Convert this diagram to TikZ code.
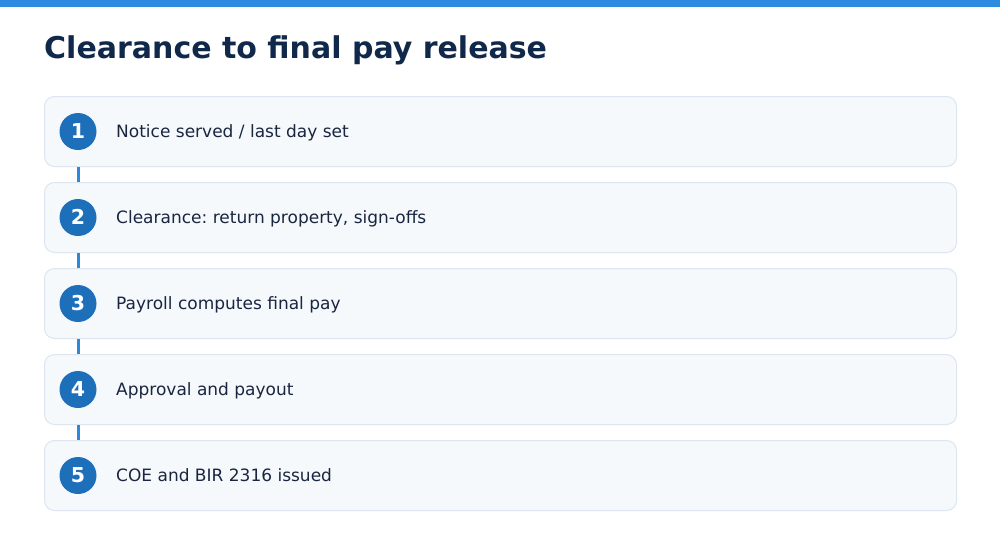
\documentclass[tikz,border=0pt]{standalone}
\usepackage{fontspec}
\setmainfont{DejaVu Sans}
\frenchspacing
\definecolor{topbar}{HTML}{2E8BE0}
\definecolor{titlec}{HTML}{10284A}
\definecolor{boxfill}{HTML}{F5F9FC}
\definecolor{boxdraw}{HTML}{DCE5F0}
\definecolor{circc}{HTML}{1E6FBA}
\definecolor{txtc}{HTML}{1A2640}
\definecolor{linec}{HTML}{2E86DE}
\tikzset{
  stepbox/.style={draw=boxdraw, line width=1pt, fill=boxfill, rounded corners=10pt, minimum width=912pt, minimum height=70pt, inner sep=0pt},
  numcirc/.style={circle, fill=circc, minimum size=37pt, inner sep=0pt},
  numtext/.style={anchor=base, inner sep=0pt, text=white, font=\bfseries\fontsize{20.5}{22}\selectfont},
  steptext/.style={anchor=base west, text=txtc, inner sep=0pt, font=\fontsize{17}{20}\selectfont},
  conn/.style={draw=linec, line width=3pt}
}
\begin{document}
\begin{tikzpicture}[x=1pt,y=-1pt]
\useasboundingbox[fill=white] (0,0) rectangle (1000,536);
\fill[topbar] (0,0) rectangle (1000,7);
\node[anchor=base west, inner sep=0pt, text=titlec, font=\bfseries\fontsize{30}{36}\selectfont] (title) at (44,58) {Clearance to final pay release};
\foreach \i/\t [count=\k] in {1/{Notice served / last day set},2/{Clearance: return property, sign-offs},3/{Payroll computes final pay},4/{Approval and payout},5/{COE and BIR 2316 issued}}{
  \node[stepbox] (b\i) at (500.5,{131.5+86*(\i-1)}) {};
  \node[numcirc] (c\i) at (78,{131.5+86*(\i-1)}) {};
  \node[numtext] (n\i) at (78,{138.3+86*(\i-1)}) {\i};
  \node[steptext] (t\i) at (116,{137.5+86*(\i-1)}) {\t};
}
\foreach \i/\j in {1/2,2/3,3/4,4/5}{
  \draw[conn] (c\i |- b\i.south) -- (c\i |- b\j.north);
}
\end{tikzpicture}
\end{document}
